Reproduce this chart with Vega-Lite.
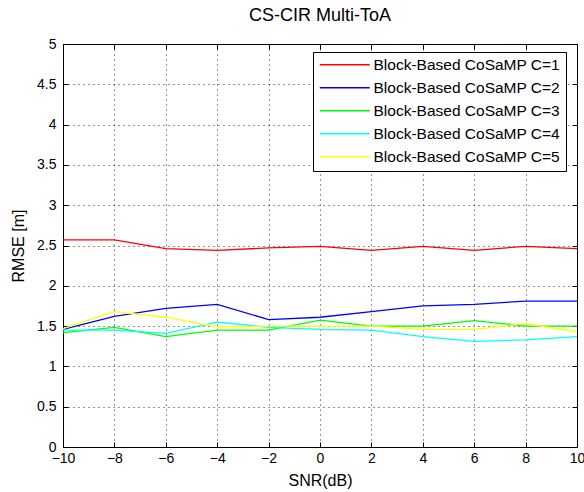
{
  "$schema": "https://vega.github.io/schema/vega-lite/v6.json",
  "width": 514,
  "height": 403,
  "autosize": {"type": "none"},
  "padding": {"left": 63, "top": 44, "right": 7, "bottom": 45},
  "background": "white",
  "title": {"text": "CS-CIR Multi-ToA", "font": "Liberation Sans", "fontSize": 18, "fontWeight": "normal", "color": "black", "offset": 12},
  "config": {
    "view": {"stroke": "black", "strokeWidth": 1},
    "axis": {
      "domainColor": "black",
      "tickColor": "black",
      "labelColor": "black",
      "titleColor": "black",
      "labelFont": "Liberation Sans",
      "titleFont": "Liberation Sans",
      "labelFontSize": 14,
      "titleFontSize": 16,
      "titleFontWeight": "normal",
      "tickSize": -5,
      "gridColor": "black",
      "gridDash": [1, 4],
      "gridOpacity": 0.85
    }
  },
  "data": {
    "values": [
      {"snr": -10, "rmse": 2.57, "series": "Block-Based CoSaMP C=1"},
      {"snr": -8, "rmse": 2.57, "series": "Block-Based CoSaMP C=1"},
      {"snr": -6, "rmse": 2.46, "series": "Block-Based CoSaMP C=1"},
      {"snr": -4, "rmse": 2.44, "series": "Block-Based CoSaMP C=1"},
      {"snr": -2, "rmse": 2.47, "series": "Block-Based CoSaMP C=1"},
      {"snr": 0, "rmse": 2.49, "series": "Block-Based CoSaMP C=1"},
      {"snr": 2, "rmse": 2.44, "series": "Block-Based CoSaMP C=1"},
      {"snr": 4, "rmse": 2.49, "series": "Block-Based CoSaMP C=1"},
      {"snr": 6, "rmse": 2.44, "series": "Block-Based CoSaMP C=1"},
      {"snr": 8, "rmse": 2.49, "series": "Block-Based CoSaMP C=1"},
      {"snr": 10, "rmse": 2.46, "series": "Block-Based CoSaMP C=1"},
      {"snr": -10, "rmse": 1.46, "series": "Block-Based CoSaMP C=2"},
      {"snr": -8, "rmse": 1.62, "series": "Block-Based CoSaMP C=2"},
      {"snr": -6, "rmse": 1.72, "series": "Block-Based CoSaMP C=2"},
      {"snr": -4, "rmse": 1.77, "series": "Block-Based CoSaMP C=2"},
      {"snr": -2, "rmse": 1.58, "series": "Block-Based CoSaMP C=2"},
      {"snr": 0, "rmse": 1.61, "series": "Block-Based CoSaMP C=2"},
      {"snr": 2, "rmse": 1.68, "series": "Block-Based CoSaMP C=2"},
      {"snr": 4, "rmse": 1.75, "series": "Block-Based CoSaMP C=2"},
      {"snr": 6, "rmse": 1.77, "series": "Block-Based CoSaMP C=2"},
      {"snr": 8, "rmse": 1.81, "series": "Block-Based CoSaMP C=2"},
      {"snr": 10, "rmse": 1.81, "series": "Block-Based CoSaMP C=2"},
      {"snr": -10, "rmse": 1.42, "series": "Block-Based CoSaMP C=3"},
      {"snr": -8, "rmse": 1.485, "series": "Block-Based CoSaMP C=3"},
      {"snr": -6, "rmse": 1.37, "series": "Block-Based CoSaMP C=3"},
      {"snr": -4, "rmse": 1.45, "series": "Block-Based CoSaMP C=3"},
      {"snr": -2, "rmse": 1.45, "series": "Block-Based CoSaMP C=3"},
      {"snr": 0, "rmse": 1.575, "series": "Block-Based CoSaMP C=3"},
      {"snr": 2, "rmse": 1.5, "series": "Block-Based CoSaMP C=3"},
      {"snr": 4, "rmse": 1.5, "series": "Block-Based CoSaMP C=3"},
      {"snr": 6, "rmse": 1.567, "series": "Block-Based CoSaMP C=3"},
      {"snr": 8, "rmse": 1.5, "series": "Block-Based CoSaMP C=3"},
      {"snr": 10, "rmse": 1.5, "series": "Block-Based CoSaMP C=3"},
      {"snr": -10, "rmse": 1.45, "series": "Block-Based CoSaMP C=4"},
      {"snr": -8, "rmse": 1.45, "series": "Block-Based CoSaMP C=4"},
      {"snr": -6, "rmse": 1.41, "series": "Block-Based CoSaMP C=4"},
      {"snr": -4, "rmse": 1.55, "series": "Block-Based CoSaMP C=4"},
      {"snr": -2, "rmse": 1.485, "series": "Block-Based CoSaMP C=4"},
      {"snr": 0, "rmse": 1.46, "series": "Block-Based CoSaMP C=4"},
      {"snr": 2, "rmse": 1.45, "series": "Block-Based CoSaMP C=4"},
      {"snr": 4, "rmse": 1.37, "series": "Block-Based CoSaMP C=4"},
      {"snr": 6, "rmse": 1.31, "series": "Block-Based CoSaMP C=4"},
      {"snr": 8, "rmse": 1.33, "series": "Block-Based CoSaMP C=4"},
      {"snr": 10, "rmse": 1.37, "series": "Block-Based CoSaMP C=4"},
      {"snr": -10, "rmse": 1.47, "series": "Block-Based CoSaMP C=5"},
      {"snr": -8, "rmse": 1.68, "series": "Block-Based CoSaMP C=5"},
      {"snr": -6, "rmse": 1.61, "series": "Block-Based CoSaMP C=5"},
      {"snr": -4, "rmse": 1.49, "series": "Block-Based CoSaMP C=5"},
      {"snr": -2, "rmse": 1.5, "series": "Block-Based CoSaMP C=5"},
      {"snr": 0, "rmse": 1.5, "series": "Block-Based CoSaMP C=5"},
      {"snr": 2, "rmse": 1.5, "series": "Block-Based CoSaMP C=5"},
      {"snr": 4, "rmse": 1.46, "series": "Block-Based CoSaMP C=5"},
      {"snr": 6, "rmse": 1.46, "series": "Block-Based CoSaMP C=5"},
      {"snr": 8, "rmse": 1.53, "series": "Block-Based CoSaMP C=5"},
      {"snr": 10, "rmse": 1.43, "series": "Block-Based CoSaMP C=5"}
    ]
  },
  "layer": [
    {
      "mark": {"type": "line", "strokeWidth": 1.3},
      "encoding": {
        "x": {"field": "snr", "type": "quantitative", "scale": {"domain": [-10, 10], "nice": false},
              "axis": {"values": [-10, -8, -6, -4, -2, 0, 2, 4, 6, 8, 10], "title": "SNR(dB)", "grid": true, "labelPadding": 9, "titlePadding": 7, "labelFlush": false}},
        "y": {"field": "rmse", "type": "quantitative", "scale": {"domain": [0, 5], "nice": false, "zero": false},
              "axis": {"values": [0, 0.5, 1, 1.5, 2, 2.5, 3, 3.5, 4, 4.5, 5], "labelExpr": "datum.value", "title": "RMSE [m]", "grid": true, "labelPadding": 12, "titlePadding": 10}},
        "color": {"field": "series", "type": "nominal",
                  "scale": {"domain": ["Block-Based CoSaMP C=1", "Block-Based CoSaMP C=2", "Block-Based CoSaMP C=3", "Block-Based CoSaMP C=4", "Block-Based CoSaMP C=5"],
                            "range": ["#ff0000", "#0000ff", "#00ff00", "#00ffff", "#ffff00"]},
                  "legend": {"title": null, "orient": "none", "legendX": 250, "legendY": 8,
                             "symbolType": "M-1.2,0H8.8", "symbolSize": 100, "symbolStrokeWidth": 1.3,
                             "labelFont": "Liberation Sans", "labelFontSize": 15.5, "labelColor": "black",
                             "rowPadding": 6, "padding": 5, "strokeColor": "black", "fillColor": "white",
                             "labelOffset": 40, "labelLimit": 300}}
      }
    },
    {
      "mark": {"type": "point", "opacity": 0},
      "encoding": {
        "x": {"field": "snr", "type": "quantitative", "axis": {"orient": "top", "values": [-10, -8, -6, -4, -2, 0, 2, 4, 6, 8, 10], "labels": false, "title": null, "grid": false}},
        "y": {"field": "rmse", "type": "quantitative", "axis": {"orient": "right", "values": [0, 0.5, 1, 1.5, 2, 2.5, 3, 3.5, 4, 4.5, 5], "labels": false, "title": null, "grid": false}}
      }
    }
  ],
  "resolve": {"axis": {"x": "independent", "y": "independent"}}
}
